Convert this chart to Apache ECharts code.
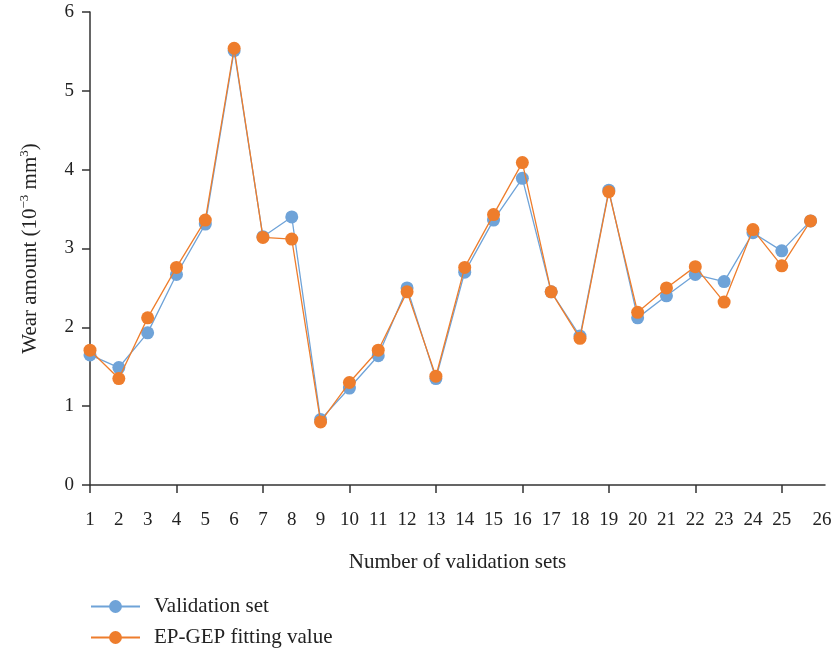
<!DOCTYPE html>
<html>
<head>
<meta charset="utf-8">
<script src="https://cdn.jsdelivr.net/npm/echarts@6/dist/echarts.min.js"></script>
<style>
  html, body { margin: 0; padding: 0; background: #fff; }
  #chart { width: 837px; height: 655px; }
</style>
</head>
<body>
<div id="chart"></div>
<script>
// Validation set index (x) and wear amounts (10^-3 mm^3)
const setNumbers = [1, 2, 3, 4, 5, 6, 7, 8, 9, 10, 11, 12, 13, 14, 15, 16, 17, 18, 19, 20, 21, 22, 23, 24, 25, 26];
const validationValues = [1.65, 1.49, 1.93, 2.67, 3.31, 5.51, 3.15, 3.40, 0.83, 1.23, 1.64, 2.50, 1.35, 2.70, 3.36, 3.89, 2.45, 1.89, 3.74, 2.12, 2.40, 2.67, 2.58, 3.20, 2.97, 3.35];
const fittedValues = [1.71, 1.35, 2.12, 2.76, 3.36, 5.54, 3.14, 3.12, 0.80, 1.30, 1.71, 2.45, 1.38, 2.76, 3.43, 4.09, 2.45, 1.86, 3.72, 2.19, 2.50, 2.77, 2.32, 3.24, 2.78, 3.35];

// Axis labels and tick positions
const xLabelValues = [1, 2, 3, 4, 5, 6, 7, 8, 9, 10, 11, 12, 13, 14, 15, 16, 17, 18, 19, 20, 21, 22, 23, 24, 25, 26.4];
const xLabelTexts = ['1', '2', '3', '4', '5', '6', '7', '8', '9', '10', '11', '12', '13', '14', '15', '16', '17', '18', '19', '20', '21', '22', '23', '24', '25', '26'];
const xTickValues = [1, 4, 7, 10, 13, 16, 19, 22, 25];
const yTickLabels = ['0', '1', '2', '3', '4', '5', '6'];

const seriesNames = ['Validation set', 'EP-GEP fitting value'];
const FONT = 'Liberation Serif';
const TEXT = '#222';

const pairs = vals => setNumbers.map((x, i) => [x, vals[i]]);

const chart = echarts.init(document.getElementById('chart'));
chart.setOption({
  animation: false,
  textStyle: { fontFamily: FONT, color: TEXT },
  grid: { left: 90, right: 12, top: 12, bottom: 170, containLabel: false },
  legend: {
    orient: 'vertical',
    left: 85,
    bottom: 2,
    itemWidth: 49,
    itemHeight: 16,
    itemGap: 10,
    textStyle: { fontFamily: FONT, fontSize: 21, color: TEXT, padding: [0, 0, 0, 9] },
    data: seriesNames
  },
  xAxis: {
    type: 'value',
    min: 1,
    max: 26.5,
    name: 'Number of validation sets',
    nameLocation: 'middle',
    nameGap: 67,
    nameTextStyle: { fontFamily: FONT, fontSize: 21, color: TEXT },
    axisLine: { lineStyle: { color: '#333', width: 1.5 } },
    axisTick: { show: true, customValues: xTickValues, length: 8, lineStyle: { color: '#333', width: 1.5 } },
    axisLabel: {
      customValues: xLabelValues,
      margin: 26,
      fontFamily: FONT,
      fontSize: 19,
      color: TEXT,
      formatter: v => {
        const i = xLabelValues.indexOf(v);
        return i >= 0 ? xLabelTexts[i] : '';
      }
    },
    splitLine: { show: false }
  },
  yAxis: {
    type: 'value',
    min: 0,
    max: 6,
    interval: 1,
    name: '{a|Wear amount (10}{sup|−3}{a| mm}{sup|3}{a|)}',
    nameLocation: 'middle',
    nameGap: 48,
    nameTextStyle: {
      rich: {
        a: { fontFamily: FONT, fontSize: 21, color: TEXT, lineHeight: 24 },
        sup: { fontFamily: FONT, fontSize: 13, color: TEXT, lineHeight: 24, verticalAlign: 'top' }
      }
    },
    axisLine: { show: true, lineStyle: { color: '#333', width: 1.5 } },
    axisTick: { show: true, length: 8, lineStyle: { color: '#333', width: 1.5 } },
    axisLabel: {
      margin: 16,
      fontFamily: FONT,
      fontSize: 19,
      color: TEXT,
      formatter: v => yTickLabels[Math.round(v)]
    },
    splitLine: { show: false }
  },
  series: [
    {
      name: seriesNames[0],
      type: 'line',
      data: pairs(validationValues),
      symbol: 'circle',
      symbolSize: 13,
      itemStyle: { color: '#6fa3d8' },
      lineStyle: { color: '#6fa3d8', width: 1.3 },
      z: 2
    },
    {
      name: seriesNames[1],
      type: 'line',
      data: pairs(fittedValues),
      symbol: 'circle',
      symbolSize: 13,
      itemStyle: { color: '#ee7d2c' },
      lineStyle: { color: '#ee7d2c', width: 1.3 },
      z: 3
    }
  ]
});
</script>
</body>
</html>
